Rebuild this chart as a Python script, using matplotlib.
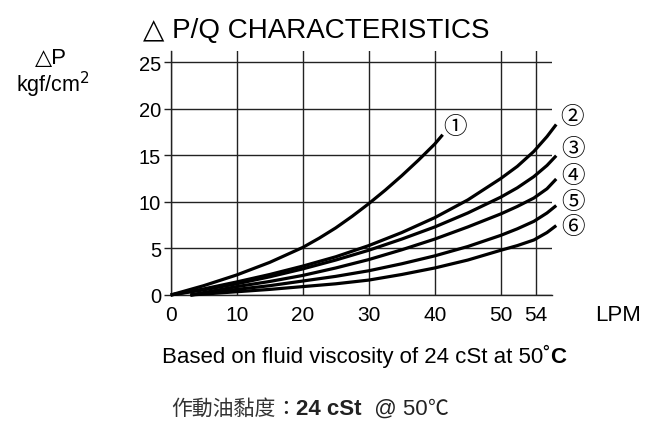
import matplotlib
matplotlib.use("Agg")
import matplotlib.pyplot as plt

# ---- data ----
x1 = [0, 5, 10, 15, 20, 22.5, 25, 27.5, 30, 32.5, 35, 37.5, 40, 41.2]
y1 = [0, 1.0, 2.15, 3.5, 5.1, 6.1, 7.2, 8.45, 9.8, 11.25, 12.8, 14.45, 16.2, 17.2]
x2 = [0, 5, 10, 15, 20, 25, 30, 35, 40, 45, 50, 52.5, 55, 57, 58.4]
y2 = [0, 0.65, 1.4, 2.2, 3.1, 4.1, 5.3, 6.7, 8.3, 10.2, 12.5, 13.8, 15.4, 17.0, 18.3]
x3 = [0, 5, 10, 15, 20, 25, 30, 35, 40, 45, 50, 52.5, 55, 57, 58.4]
y3 = [0, 0.55, 1.2, 1.95, 2.8, 3.75, 4.8, 6.0, 7.3, 8.8, 10.5, 11.5, 12.7, 13.9, 14.95]
x4 = [3, 10, 15, 20, 25, 30, 35, 40, 45, 50, 52.5, 55, 57, 58.4]
y4 = [0, 0.9, 1.45, 2.1, 2.9, 3.8, 4.85, 6.0, 7.3, 8.7, 9.5, 10.4, 11.4, 12.45]
x5 = [3, 10, 15, 20, 25, 30, 35, 40, 45, 50, 52.5, 55, 57, 58.4]
y5 = [0, 0.6, 1.0, 1.5, 2.0, 2.6, 3.35, 4.2, 5.2, 6.4, 7.1, 7.9, 8.8, 9.6]
x6 = [3, 10, 15, 20, 25, 30, 35, 40, 45, 50, 52.5, 55, 57, 58.4]
y6 = [0, 0.35, 0.6, 0.9, 1.2, 1.6, 2.2, 2.9, 3.75, 4.8, 5.3, 5.9, 6.7, 7.45]
curve_labels = ["①", "②", "③", "④", "⑤", "⑥"]
x_ticks = [0, 10, 20, 30, 40, 50, 55.3]
x_tick_labels = ["0", "10", "20", "30", "40", "50", "54"]
y_ticks = [0, 5, 10, 15, 20, 25]
y_tick_labels = ["0", "5", "10", "15", "20", "25"]

# label positions (layout)
label_pos = [(43.1, 18.1), (60.8, 19.2), (60.9, 15.7), (60.9, 12.8), (60.9, 10.0), (60.9, 7.3)]

FONT = ["Liberation Sans", "DejaVu Sans"]
CJK = ["Noto Sans CJK TC", "DejaVu Sans"]

fig = plt.figure(figsize=(6.46, 4.27), dpi=100)
ax = fig.add_axes([0.2642, 0.3068, 0.5907, 0.5707])
ax.set_xlim(0, 57.8)
ax.set_ylim(0, 26.15)

ax.set_xticks(x_ticks)
ax.set_xticklabels(x_tick_labels, fontfamily=FONT, fontsize=15)
ax.set_yticks(y_ticks)
ax.set_yticklabels(y_tick_labels, fontfamily=FONT, fontsize=14.5)
ax.tick_params(axis="x", length=0, pad=7)
ax.tick_params(axis="y", length=5, width=1.0, pad=2, color="#222222")
ax.grid(True, color="#222222", linewidth=1.0)
ax.set_axisbelow(True)
for s in ["top", "right"]:
    ax.spines[s].set_visible(False)
for s in ["left", "bottom"]:
    ax.spines[s].set_color("#222222")
    ax.spines[s].set_linewidth(1.0)

xs = [x1, x2, x3, x4, x5, x6]
ys = [y1, y2, y3, y4, y5, y6]
for xv, yv, lab, pos in zip(xs, ys, curve_labels, label_pos):
    ax.plot(xv, yv, color="black", linewidth=2.3, solid_capstyle="butt",
            solid_joinstyle="round", clip_on=False, zorder=3)
    ax.text(pos[0], pos[1], lab, fontfamily=["Noto Sans CJK JP", "DejaVu Sans"],
            fontsize=17, ha="center", va="center", clip_on=False)

# texts
fig.text(0.489, 0.928, "△ P/Q CHARACTERISTICS", fontfamily=FONT, fontsize=20,
         ha="center", va="center")
fig.text(0.079, 0.864, "△P", fontfamily=FONT, fontsize=16, ha="center", va="center")
fig.text(0.082, 0.800, "kgf/cm$^{2}$", fontfamily=FONT, fontsize=15.5, ha="center", va="center")
fig.text(0.957, 0.262, "LPM", fontfamily=FONT, fontsize=16, ha="center", va="center")

fig.canvas.draw()
r = fig.canvas.get_renderer()
inv = fig.transFigure.inverted()

def chain(x0, y, parts):
    x = x0
    for s, kw in parts:
        t = fig.text(x, y, s, ha="left", va="baseline", **kw)
        bb = t.get_window_extent(renderer=r)
        x = inv.transform((bb.x1, bb.y0))[0]

chain(0.250, 0.150, [
    ("Based on fluid viscosity of 24 cSt at 50˚", dict(fontfamily=FONT, fontsize=16)),
    ("C", dict(fontfamily=FONT, fontsize=16, fontweight="bold")),
])
chain(0.265, 0.028, [
    ("作動油黏度", dict(fontfamily=CJK, fontsize=15, color="#333333")),
    ("：", dict(fontfamily=CJK, fontsize=15, color="#222222")),
    ("24 cSt", dict(fontfamily=FONT, fontsize=16, fontweight="bold", color="#222222")),
    ("  @ 50", dict(fontfamily=FONT, fontsize=16, color="#222222")),
    ("℃", dict(fontfamily=CJK, fontsize=15, color="#222222")),
])

fig.savefig("out.png", dpi=100)
